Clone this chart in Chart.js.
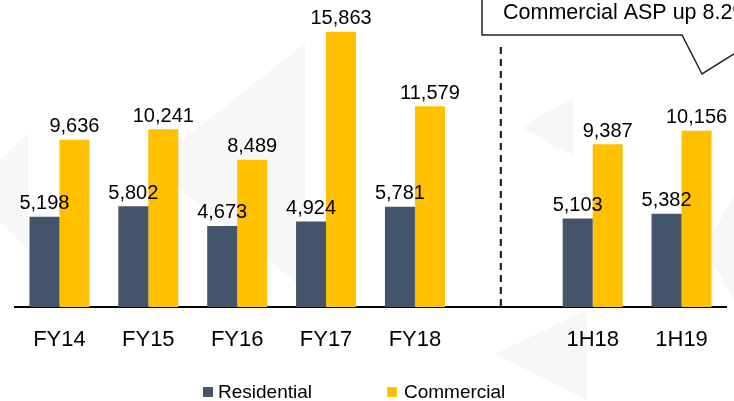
<!DOCTYPE html>
<html>
<head>
<meta charset="utf-8">
<script src="https://cdn.jsdelivr.net/npm/chart.js@4.4.1/dist/chart.umd.min.js"></script>
<style>
  html, body { margin: 0; padding: 0; background: #fff; }
  #wrap { width: 734px; height: 401px; }
</style>
</head>
<body>
<div id="wrap"><canvas id="asp"></canvas></div>
<script>
const labels = ["FY14", "FY15", "FY16", "FY17", "FY18", "", "1H18", "1H19"];
const residential = [5198, 5802, 4673, 4924, 5781, null, 5103, 5382];
const commercial = [9636, 10241, 8489, 15863, 11579, null, 9387, 10156];
const calloutText = "Commercial ASP up 8.2%";

const FONT = "'Liberation Sans', Arial, sans-serif";

// faint watermark triangles in the background
const backdrop = {
  id: "backdrop",
  beforeDraw(chart) {
    const ctx = chart.ctx;
    ctx.save();
    ctx.fillStyle = "#fff";
    ctx.fillRect(0, 0, chart.width, chart.height);
    ctx.fillStyle = "#f7f7f7";
    const tris = [
      [[28, 133], [28, 250], [-30, 190]],
      [[305, 43], [305, 290], [150, 166]],
      [[574, 97], [574, 157], [521, 127]],
      [[587, 310], [587, 400], [495, 354]],
      [[734, 195], [734, 300], [705, 248]]
    ];
    tris.forEach(t => {
      ctx.beginPath();
      ctx.moveTo(t[0][0], t[0][1]);
      ctx.lineTo(t[1][0], t[1][1]);
      ctx.lineTo(t[2][0], t[2][1]);
      ctx.closePath();
      ctx.fill();
    });
    ctx.restore();
  }
};

// value labels above every bar
const valueLabels = {
  id: "valueLabels",
  afterDatasetsDraw(chart) {
    const ctx = chart.ctx;
    ctx.save();
    ctx.font = "20px " + FONT;
    ctx.fillStyle = "#000";
    ctx.textAlign = "center";
    ctx.textBaseline = "bottom";
    chart.data.datasets.forEach((ds, i) => {
      chart.getDatasetMeta(i).data.forEach((bar, j) => {
        const v = ds.data[j];
        if (v == null) return;
        ctx.fillText(v.toLocaleString("en-US"), bar.x, bar.y - 3);
      });
    });
    ctx.restore();
  }
};

// divider, callout and legend
const extras = {
  id: "extras",
  afterDraw(chart) {
    const ctx = chart.ctx;
    const x = chart.scales.x;
    const area = chart.chartArea;
    ctx.save();

    // dashed divider between full years and halves
    const dx = x.getPixelForValue(5) - 3;
    ctx.strokeStyle = "#111";
    ctx.lineWidth = 2;
    ctx.setLineDash([7, 5]);
    ctx.beginPath();
    ctx.moveTo(dx, 47);
    ctx.lineTo(dx, area.bottom);
    ctx.stroke();
    ctx.setLineDash([]);

    // callout box
    ctx.lineWidth = 1.5;
    ctx.strokeStyle = "#222";
    ctx.beginPath();
    ctx.moveTo(482, -5);
    ctx.lineTo(482, 35);
    ctx.lineTo(682, 35);
    ctx.lineTo(702, 74);
    ctx.lineTo(745, 47);
    ctx.stroke();
    ctx.font = "21.5px " + FONT;
    ctx.fillStyle = "#000";
    ctx.textAlign = "left";
    ctx.textBaseline = "middle";
    ctx.fillText(calloutText, 503, 13);

    // legend
    const items = [[203, 218], [387, 404]];
    ctx.font = "19px " + FONT;
    chart.data.datasets.forEach((ds, i) => {
      ctx.fillStyle = ds.backgroundColor;
      ctx.fillRect(items[i][0], 387, 10, 10);
      ctx.fillStyle = "#000";
      ctx.fillText(ds.label, items[i][1], 393);
    });
    ctx.restore();
  }
};

new Chart(document.getElementById("asp"), {
  type: "bar",
  data: {
    labels: labels,
    datasets: [
      { label: "Residential", data: residential, backgroundColor: "#44546A" },
      { label: "Commercial", data: commercial, backgroundColor: "#FFC000" }
    ]
  },
  options: {
    responsive: true,
    maintainAspectRatio: false,
    animation: false,
    layout: { padding: { left: 15, right: 8, top: 0, bottom: 0 } },
    datasets: { bar: { categoryPercentage: 0.675, barPercentage: 1 } },
    plugins: { legend: { display: false }, tooltip: { enabled: false } },
    scales: {
      x: {
        grid: { display: false },
        border: { display: true, color: "#000", width: 2 },
        ticks: { color: "#000", font: { size: 22, family: FONT }, padding: 12, maxRotation: 0 },
        afterFit(scale) { scale.height = 94; }
      },
      y: { display: false, min: 0, max: 17700 }
    }
  },
  plugins: [backdrop, valueLabels, extras]
});
</script>
</body>
</html>
